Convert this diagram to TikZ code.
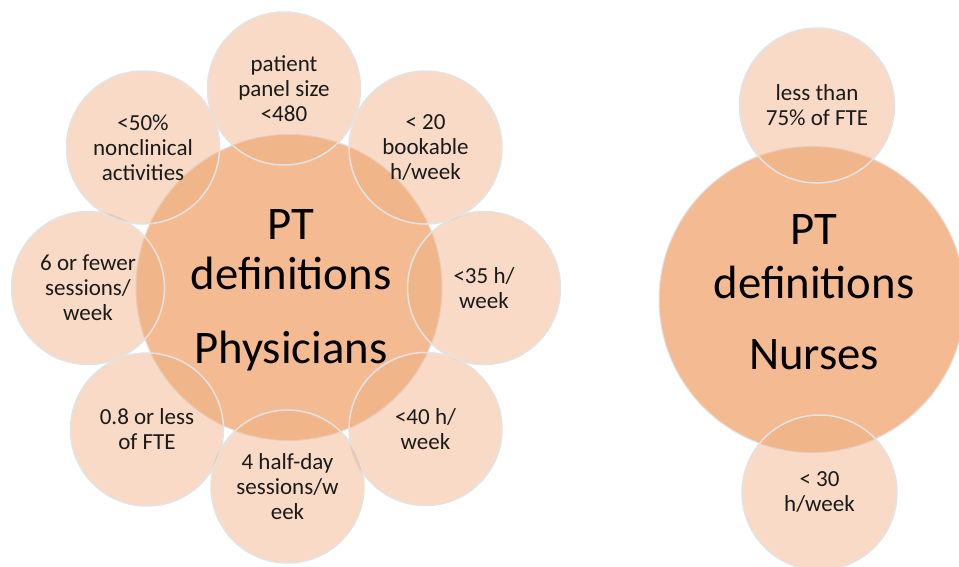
\documentclass[tikz,border=0pt]{standalone}
\usepackage{fontspec}
\setmainfont{Carlito}
\definecolor{corefill}{HTML}{F4BB93}
\definecolor{satfill}{HTML}{EFAE80}
\definecolor{rimline}{HTML}{E3E3E3}
\definecolor{inktext}{HTML}{1A1A1A}
\begin{document}
\begin{tikzpicture}[x=1pt,y=-1pt,
  core/.style={circle, draw=rimline, line width=1pt, fill=corefill,
    minimum size=306pt, inner sep=0pt},
  sat/.style={circle, draw=rimline, line width=1.5pt, fill=satfill,
    fill opacity=0.45, draw opacity=1, text opacity=1,
    minimum size=153pt, inner sep=0pt, align=center,
    font=\fontsize{23}{25}\selectfont, text=inktext},
  nsat/.style={sat, minimum size=155pt},
  coretext/.style={align=center, text=black, inner sep=0pt}]
\useasboundingbox (0,0) rectangle (959,566);
% Physicians
\node[core] (phys) at (289,287.5) {};
\node[sat] (s1) at (284,88.5) {patient\\panel size\\<480};
\node[sat] (s2) at (425.5,147.5) {< 20\\bookable\\h/week};
\node[sat] (s3) at (484,288) {<35 h/\\week};
\node[sat] (s4) at (425.5,429) {<40 h/\\week};
\node[sat] (s5) at (287.5,486.5) {4 half-day\\sessions/w\\eek};
\node[sat] (s6) at (147,429.5) {0.8 or less\\of FTE};
\node[sat] (s7) at (88,288) {6 or fewer\\sessions/\\week};
\node[sat] (s8) at (143,147.5) {<50\%\\nonclinical\\activities};
\node[coretext, font=\fontsize{46.7}{50}\selectfont] (physT) at (291,290)
  {PT\\definitions\\[24.4pt]Physicians};
% Nurses
\node[core] (nurse) at (812,299.5) {};
\node[nsat] (n1) at (817,105.5) {less than\\75\% of FTE};
\node[nsat] (n2) at (819.5,492.5) {< 30\\h/week};
\node[coretext, font=\fontsize{46.7}{54}\selectfont] (nurseT) at (814,292.5)
  {PT\\definitions\\[17pt]Nurses};
\end{tikzpicture}
\end{document}
